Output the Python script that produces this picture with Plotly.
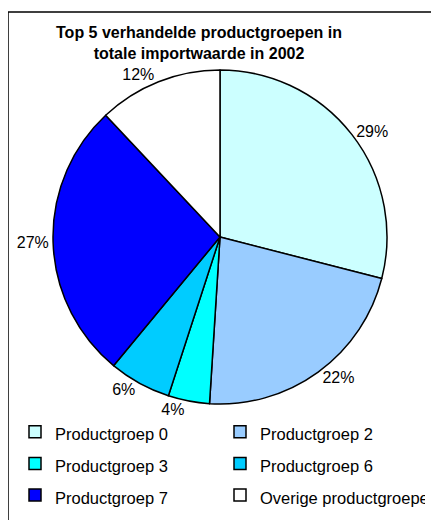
import plotly.graph_objects as go

categories = ["Productgroep 0", "Productgroep 2", "Productgroep 3",
              "Productgroep 6", "Productgroep 7", "Overige productgroepen"]
values = [29, 22, 4, 6, 27, 12]
colors = ["#CCFFFF", "#99CCFF", "#00FFFF", "#00CCFF", "#0000FF", "#FFFFFF"]

W, H = 439, 520
OFF = 8  # page body margin offset
cx, cy, r = 220 - OFF, 237 - OFF, 167
FONT = "Liberation Sans, Arial, sans-serif"

# legend text rendered at 16.5px; legend base font is larger to widen the row spacing
legend_labels = [f"<span style='font-size:16.5px'>{c}</span>" for c in categories]

fig = go.Figure(go.Pie(
    labels=legend_labels,
    values=values,
    sort=False,
    direction="clockwise",
    rotation=0,
    marker=dict(colors=colors, line=dict(color="black", width=1.5)),
    textinfo="percent",
    texttemplate="%{percent:.0%}",
    textposition="outside",
    outsidetextfont=dict(family=FONT, size=16, color="black"),
    domain=dict(x=[(cx - r) / W, (cx + r) / W], y=[1 - (cy + r) / H, 1 - (cy - r) / H]),
    showlegend=True,
    hovertemplate="%{customdata}: %{value}%<extra></extra>",
    customdata=categories,
))

fig.update_layout(
    width=W, height=H,
    margin=dict(l=0, r=0, t=0, b=0, autoexpand=False),
    paper_bgcolor="white",
    plot_bgcolor="white",
    font=dict(family=FONT, size=16, color="black"),
    title=dict(
        text="<b>Top 5 verhandelde productgroepen in<br>totale importwaarde in 2002</b>",
        x=191 / W, xanchor="center",
        y=1 - 30 / H, yanchor="top", yref="container",
        font=dict(family=FONT, size=16, color="black"),
    ),
    legend=dict(
        orientation="h",
        x=7 / W, xanchor="left",
        y=1 - 403 / H, yanchor="top",
        entrywidth=160, entrywidthmode="pixels",
        font=dict(family=FONT, size=22, color="black"),
        traceorder="normal",
        bgcolor="rgba(0,0,0,0)",
    ),
    shapes=[dict(type="rect", xref="paper", yref="paper",
                 x0=0, x1=1.02, y0=-0.02, y1=1 - 4 / H,
                 line=dict(color="black", width=1.5), layer="below")],
)

fig.write_html("out.html")
